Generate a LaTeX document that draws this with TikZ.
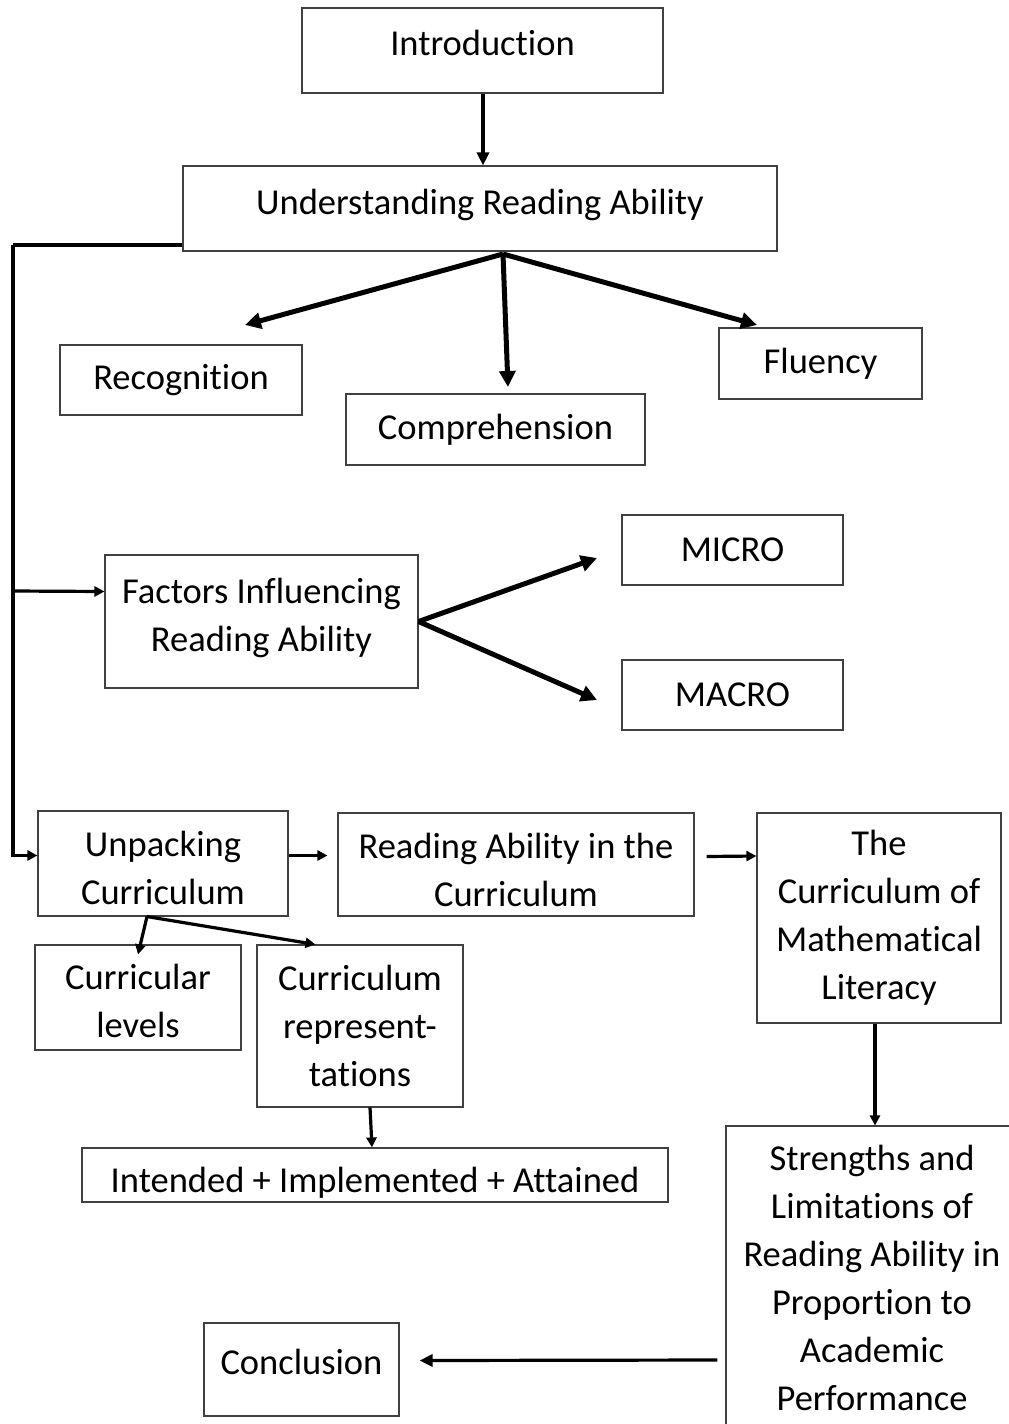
\documentclass[tikz,border=0pt]{standalone}
\usepackage{fontspec}
\setmainfont{Carlito}[Ligatures=NoCommon]
\usetikzlibrary{arrows.meta,positioning}
\newcommand{\lift}[2]{\raisebox{#1}[\height][\depth]{#2}}

\begin{document}
\begin{tikzpicture}[x=1pt, y=-1pt, every node/.style={align=center, font=\fontsize{36.5}{48}\selectfont}]
\tikzset{
  topic/.style={draw=black!75, line width=1.1pt, inner sep=0pt},
  fan/.style={-{Triangle[length=16pt, width=16pt]}, line width=5pt},
  flow/.style={-{Triangle[length=13pt, width=12pt]}, line width=3.2pt},
  railflow/.style={-{Triangle[length=10pt, width=10pt]}, line width=3.2pt}
}
\useasboundingbox (0,0) rectangle (1009,1424);
\clip (0,0) rectangle (1009,1424);
% top of the chart
\node[topic, minimum width=361pt, minimum height=85pt] (intro) at (482.5,50.5) {\lift{8pt}{Introduction}};
\node[topic, minimum width=594pt, minimum height=85pt] (understand) at (480,208.5) {\lift{4pt}{Understanding Reading Ability}};
\node[topic, minimum width=242pt, minimum height=70pt] (recog) at (181,380) {Recognition};
\node[topic, minimum width=299pt, minimum height=71pt] (compre) at (495.5,429.5) {Comprehension};
\node[topic, minimum width=203pt, minimum height=71pt] (fluency) at (820.5,363.5) {Fluency};
% factors
\node[topic, minimum width=313pt, minimum height=133pt] (factors) at (261.5,621.5) {\lift{4pt}{Factors Influencing}\\\lift{4pt}{Reading Ability}};
\node[topic, minimum width=221pt, minimum height=70pt] (micro) at (732.5,550) {MICRO};
\node[topic, minimum width=221pt, minimum height=70pt] (macro) at (732.5,695) {MACRO};
% curriculum row
\node[topic, minimum width=250pt, minimum height=105pt] (unpack) at (163,863.5) {\lift{-4pt}{Unpacking}\\\lift{-4pt}{Curriculum}};
\node[topic, minimum width=356pt, minimum height=103pt] (rainc) at (516,864.5) {\lift{-5pt}{Reading Ability in the}\\\lift{-5pt}{Curriculum}};
\node[topic, minimum width=244pt, minimum height=210pt] (mlcurr) at (879,918) {The\\Curriculum of\\Mathematical\\Literacy};
\node[topic, minimum width=206pt, minimum height=105pt] (levels) at (138,997.5) {\lift{-3pt}{Curricular}\\\lift{-3pt}{levels}};
\node[topic, minimum width=206pt, minimum height=162pt] (reps) at (360,1026) {Curriculum\\represent-\\tations};
\node[topic, minimum width=586pt, minimum height=54pt] (iia) at (375,1175) {\lift{-8pt}{Intended + Implemented + Attained}};
% bottom
\node[topic, minimum width=292pt, minimum height=314pt] (strengths) at (872,1283) {\lift{5pt}{Strengths and}\\\lift{5pt}{Limitations of}\\\lift{5pt}{Reading Ability in}\\\lift{5pt}{Proportion to}\\\lift{5pt}{Academic}\\\lift{5pt}{Performance}};
\node[topic, minimum width=195pt, minimum height=93pt] (concl) at (301.5,1369.5) {\lift{8pt}{Conclusion}};

\coordinate (railtop) at (13,245);
\coordinate (fanroot) at (503,254);
\coordinate (recTip) at (245,325);
\coordinate (compTip) at (508,387);
\coordinate (fluTip) at (757,325);
\coordinate (microTip) at (597,558);
\coordinate (macroTip) at (597,700);

\draw[flow] (intro.south -| 483,0) -- (understand.north -| 483,0);
\draw[fan] (fanroot) -- (recTip);
\draw[fan] (fanroot) -- (compTip);
\draw[fan] (fanroot) -- (fluTip);
\draw[line width=3.2pt] (understand.west |- railtop) -- (railtop);
\draw[railflow] (railtop) |- ([yshift=8pt]unpack.west);
\draw[railflow] (railtop |- 0,591) -- ([yshift=30pt]factors.west);
\draw[fan] (factors.east) -- (microTip);
\draw[fan] (factors.east) -- (macroTip);
\draw[railflow] ([yshift=8pt]unpack.east) -- ([xshift=-10pt,yshift=9pt]rainc.west);
\draw[railflow] ([xshift=12pt,yshift=8pt]rainc.east) -- ([yshift=62pt]mlcurr.west);
\draw[railflow] ([xshift=-4pt]mlcurr.south) -- ([xshift=-4pt]mlcurr.south |- strengths.north);
\draw[railflow] ([xshift=-16pt]unpack.south) -- ([yshift=-10pt]levels.north);
\draw[railflow] ([xshift=-16pt]unpack.south) -- ([xshift=59pt]reps.north west);
\draw[railflow] ([xshift=10pt]reps.south) -- ([xshift=-3pt]iia.north);
\draw[flow] ([xshift=-8pt,yshift=-77pt]strengths.west) -- ([xshift=20pt,yshift=9pt]concl.east);
\end{tikzpicture}
\end{document}
